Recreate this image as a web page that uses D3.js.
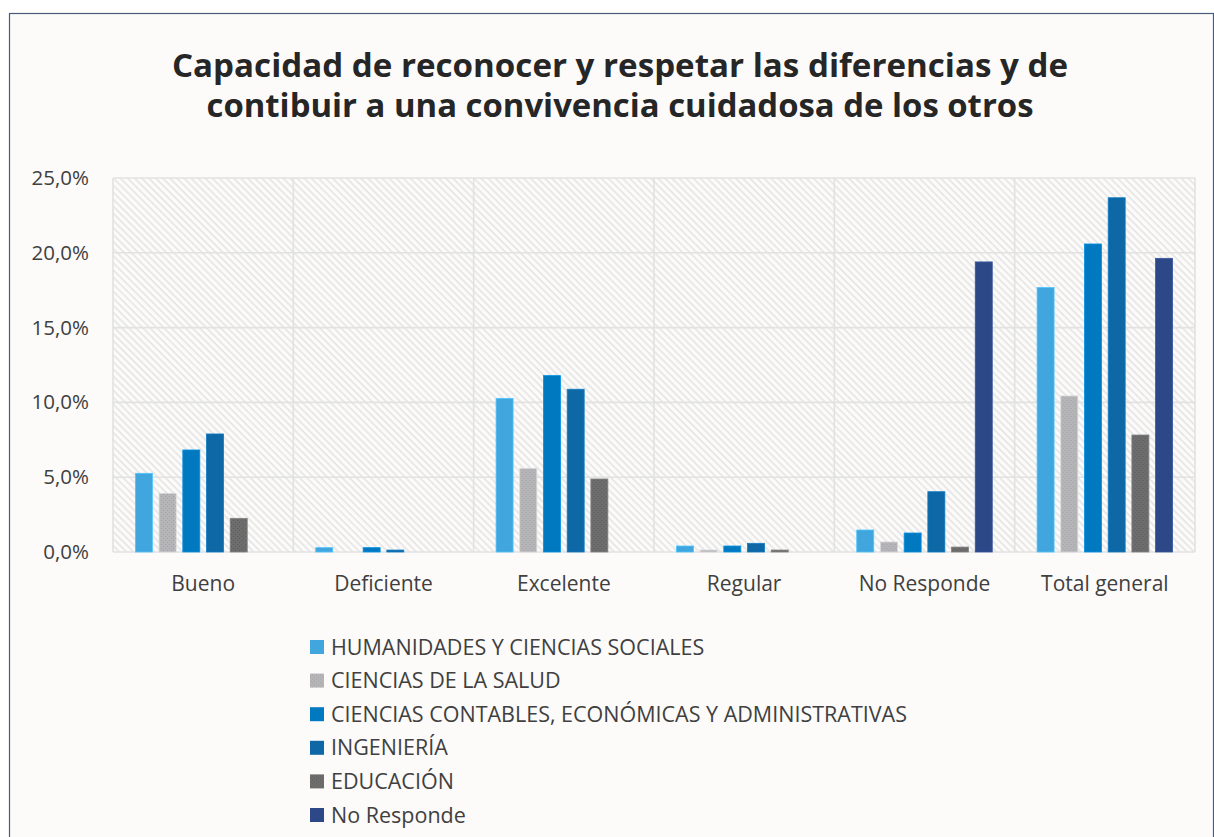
<!DOCTYPE html>
<html>
<head>
<meta charset="utf-8">
<script src="https://cdn.jsdelivr.net/npm/d3@7"></script>
<style>
  body { margin: 0; background: #ffffff; }
  text { font-family: "Open Sans", "Noto Sans", sans-serif; }
</style>
</head>
<body>
<div id="chart"></div>
<script>
// Données
const categories = ["Bueno", "Deficiente", "Excelente", "Regular", "No Responde", "Total general"];
const seriesNames = [
  "HUMANIDADES Y CIENCIAS SOCIALES",
  "CIENCIAS DE LA SALUD",
  "CIENCIAS CONTABLES, ECONÓMICAS Y ADMINISTRATIVAS",
  "INGENIERÍA",
  "EDUCACIÓN",
  "No Responde"
];
const humanidades = [0.0526, 0.0029, 0.1027, 0.0040, 0.0147, 0.1768];
const salud       = [0.0392, 0.0000, 0.0559, 0.0013, 0.0067, 0.1043];
const contables   = [0.0682, 0.0029, 0.1179, 0.0040, 0.0127, 0.2059];
const ingenieria  = [0.0789, 0.0013, 0.1088, 0.0058, 0.0403, 0.2368];
const educacion   = [0.0225, 0.0000, 0.0488, 0.0013, 0.0033, 0.0782];
const noResponde  = [0.0000, 0.0000, 0.0000, 0.0000, 0.1939, 0.1963];
const yTicks = [0, 0.05, 0.10, 0.15, 0.20, 0.25];

const seriesValues = [humanidades, salud, contables, ingenieria, educacion, noResponde];
const colors = ["#41A6DE", "#B5B5B7", "#0079C0", "#0D68A5", "#6D6D6D", "#2C4886"];

const width = 1214, height = 837;
const plot = { left: 113, right: 1195, top: 178, bottom: 552 };

const svg = d3.select("#chart").append("svg")
  .attr("width", width)
  .attr("height", height);

const defs = svg.append("defs");

// Hachures du fond
const hatch = defs.append("pattern")
  .attr("id", "hatch")
  .attr("patternUnits", "userSpaceOnUse")
  .attr("width", 5).attr("height", 5)
  .attr("patternTransform", "rotate(45)");
hatch.append("rect").attr("width", 5).attr("height", 5).attr("fill", "#FCFBFA");
hatch.append("rect").attr("width", 5).attr("height", 1.6).attr("fill", "#E4E4E4");

// Texture pointillée pour les barres grises
function dots(id, base, dot) {
  const p = defs.append("pattern")
    .attr("id", id)
    .attr("patternUnits", "userSpaceOnUse")
    .attr("width", 4).attr("height", 4);
  p.append("rect").attr("width", 4).attr("height", 4).attr("fill", base);
  p.append("rect").attr("x", 0).attr("y", 0).attr("width", 1).attr("height", 1).attr("fill", dot);
  p.append("rect").attr("x", 2).attr("y", 2).attr("width", 1).attr("height", 1).attr("fill", dot);
}
dots("dotSalud", colors[1], "#A4A4A6");
dots("dotEdu", colors[4], "#5E5E5E");
const fills = colors.map((c, i) => i === 1 ? "url(#dotSalud)" : i === 4 ? "url(#dotEdu)" : c);

// Fond et cadre
svg.append("rect")
  .attr("x", 9.5).attr("y", 13.5)
  .attr("width", 1204).attr("height", 840)
  .attr("fill", "#FCFBFA")
  .attr("stroke", "#485B78")
  .attr("stroke-width", 1.2);

// Titre
const title = svg.append("text")
  .attr("text-anchor", "middle")
  .attr("font-weight", "bold")
  .attr("font-size", 32)
  .attr("fill", "#262626");
title.append("tspan").attr("x", 620).attr("y", 77)
  .attr("textLength", 896).attr("lengthAdjust", "spacingAndGlyphs")
  .text("Capacidad de reconocer y respetar las diferencias y de");
title.append("tspan").attr("x", 620).attr("y", 117)
  .attr("textLength", 827).attr("lengthAdjust", "spacingAndGlyphs")
  .text("contibuir a una convivencia cuidadosa de los otros");

// Échelles
const x0 = d3.scaleBand().domain(categories).range([plot.left, plot.right]);
const x1 = d3.scaleBand().domain(d3.range(seriesNames.length))
  .range([0, x0.bandwidth()])
  .paddingInner(0.283).paddingOuter(0.946);
const y = d3.scaleLinear().domain([0, 0.25]).range([plot.bottom, plot.top]);

const locale = d3.formatLocale({ decimal: ",", thousands: ".", grouping: [3], currency: ["", "€"] });
const fmt = locale.format(".1%");

// Zone de tracé hachurée
svg.append("rect")
  .attr("x", plot.left).attr("y", plot.top)
  .attr("width", plot.right - plot.left).attr("height", plot.bottom - plot.top)
  .attr("fill", "url(#hatch)");

// Grille horizontale
svg.append("g")
  .selectAll("line")
  .data(yTicks)
  .enter()
  .append("line")
  .attr("x1", plot.left).attr("x2", plot.right)
  .attr("y1", d => y(d)).attr("y2", d => y(d))
  .attr("stroke", "#E2E2E2")
  .attr("stroke-width", 1.6);

// Grille verticale (séparations des catégories)
const xEdges = categories.map(c => x0(c)).concat([plot.right]);
svg.append("g")
  .selectAll("line")
  .data(xEdges)
  .enter()
  .append("line")
  .attr("x1", d => d).attr("x2", d => d)
  .attr("y1", plot.top).attr("y2", plot.bottom)
  .attr("stroke", "#E2E2E2")
  .attr("stroke-width", 1.6);

// Étiquettes de l'axe Y
const yAxis = d3.axisLeft(y).tickValues(yTicks).tickFormat(fmt).tickSize(0).tickPadding(24);
const yG = svg.append("g").attr("transform", `translate(${plot.left},0)`).call(yAxis);
yG.select(".domain").remove();
yG.selectAll("text")
  .attr("font-size", 20.5)
  .attr("font-family", "'Open Sans', 'Noto Sans', sans-serif")
  .attr("fill", "#404040");

// Étiquettes de l'axe X
const xAxis = d3.axisBottom(x0).tickSize(0).tickPadding(24);
const xG = svg.append("g").attr("transform", `translate(0,${plot.bottom})`).call(xAxis);
xG.select(".domain").remove();
xG.selectAll("text")
  .attr("font-size", 21)
  .attr("font-family", "'Open Sans', 'Noto Sans', sans-serif")
  .attr("fill", "#404040");

// Barres
const groups = svg.append("g")
  .selectAll("g")
  .data(categories)
  .enter()
  .append("g")
  .attr("transform", c => `translate(${x0(c)},0)`);

groups.selectAll("rect")
  .data((c, ci) => seriesValues.map((vals, si) => ({ si, v: vals[ci] })))
  .enter()
  .filter(d => d.v > 0)
  .append("rect")
  .attr("x", d => x1(d.si))
  .attr("y", d => y(d.v))
  .attr("width", x1.bandwidth())
  .attr("height", d => y(0) - y(d.v))
  .attr("fill", d => fills[d.si])
  .attr("stroke", d => d3.color(colors[d.si]).brighter(0.5))
  .attr("stroke-width", 0.8);

// Légende
const legend = svg.append("g")
  .selectAll("g")
  .data(seriesNames)
  .enter()
  .append("g")
  .attr("transform", (d, i) => `translate(310,${647 + i * 33.6})`);

legend.append("rect")
  .attr("x", 0).attr("y", -7)
  .attr("width", 14).attr("height", 14)
  .attr("fill", (d, i) => fills[i]);

legend.append("text")
  .attr("x", 21)
  .attr("dy", "0.35em")
  .attr("font-size", 21.5)
  .attr("fill", "#404040")
  .text(d => d);
</script>
</body>
</html>
